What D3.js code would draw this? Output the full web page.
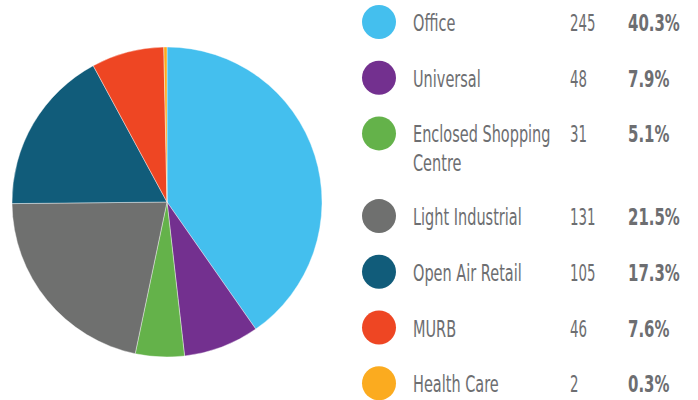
<!DOCTYPE html>
<html>
<head>
<meta charset="utf-8">
<script src="https://cdn.jsdelivr.net/npm/d3@7"></script>
<style>
  body { margin: 0; background: #fff; }
  text { font-family: "DejaVu Sans", sans-serif; fill: #6d6e71; }
</style>
</head>
<body>
<div id="chart"></div>
<script>
const categories = ["Office", "Universal", "Enclosed Shopping Centre", "Light Industrial", "Open Air Retail", "MURB", "Health Care"];
const counts = [245, 48, 31, 131, 105, 46, 2];
const percents = ["40.3%", "7.9%", "5.1%", "21.5%", "17.3%", "7.6%", "0.3%"];
const colors = ["#44bfee", "#73308f", "#64b24a", "#6f706f", "#115c7a", "#ee4623", "#fbab1f"];
// legend label lines (wrapped as in the original)
const labelLines = [["Office"], ["Universal"], ["Enclosed Shopping", "Centre"], ["Light Industrial"], ["Open Air Retail"], ["MURB"], ["Health Care"]];

const width = 698, height = 400;
const svg = d3.select("#chart").append("svg")
    .attr("width", width)
    .attr("height", height);

const data = categories.map((c, i) => ({ name: c, value: counts[i], pct: percents[i], color: colors[i], lines: labelLines[i] }));

// pie
const pie = d3.pie().value(d => d.value).sort(null);
const arc = d3.arc().innerRadius(0).outerRadius(155);

svg.append("g")
    .attr("transform", "translate(167,202)")
    .selectAll("path")
    .data(pie(data))
    .join("path")
    .attr("d", arc)
    .attr("fill", d => d.data.color)
    .attr("stroke", "#fff")
    .attr("stroke-width", 0.4);

// legend rows; the wrapped row takes extra space
const rowY = [];
let y = 22;
data.forEach(d => {
    rowY.push(y);
    y += 55.7 + (d.lines.length - 1) * 27;
});

const row = svg.append("g")
    .selectAll("g")
    .data(data)
    .join("g")
    .attr("transform", (d, i) => `translate(0,${rowY[i]})`);

row.append("circle")
    .attr("cx", 379)
    .attr("cy", 0)
    .attr("r", 17)
    .attr("fill", d => d.color);

// the original uses a condensed face, so squeeze the text horizontally
const label = row.append("text")
    .attr("transform", "translate(413,9) scale(0.63,1)")
    .style("font-size", "23px");
label.selectAll("tspan")
    .data(d => d.lines)
    .join("tspan")
    .attr("x", 0)
    .attr("dy", (d, i) => i === 0 ? 0 : 29)
    .text(d => d);

row.append("text")
    .attr("transform", "translate(570,9) scale(0.58,1)")
    .style("font-size", "23px")
    .text(d => d.value);

row.append("text")
    .attr("transform", "translate(628,9) scale(0.65,1)")
    .style("font-size", "23px")
    .style("font-weight", "bold")
    .text(d => d.pct);
</script>
</body>
</html>
